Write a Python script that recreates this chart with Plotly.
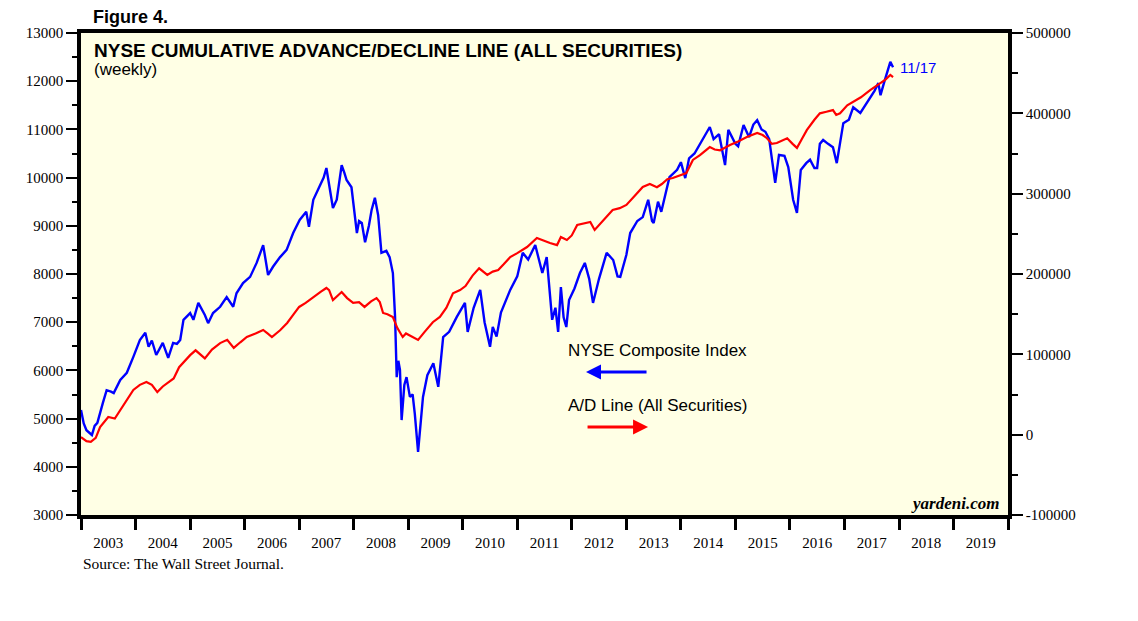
import datetime as dt
import plotly.graph_objects as go

# ---- data (decimal year, value) ----
nyse_t = [2003.00, 2003.05, 2003.10, 2003.20, 2003.25, 2003.30, 2003.40, 2003.47, 2003.55, 2003.60,
          2003.72, 2003.84, 2003.96, 2004.08, 2004.18, 2004.24, 2004.30, 2004.38, 2004.50, 2004.60,
          2004.69, 2004.76, 2004.82, 2004.88, 2005.00, 2005.06, 2005.15, 2005.27, 2005.33, 2005.42,
          2005.55, 2005.67, 2005.79, 2005.85, 2005.97, 2006.10, 2006.22, 2006.34, 2006.43, 2006.52,
          2006.65, 2006.77, 2006.89, 2007.01, 2007.13, 2007.18, 2007.26, 2007.38, 2007.45, 2007.50,
          2007.58, 2007.62, 2007.69, 2007.78, 2007.83, 2007.87, 2007.96, 2008.06, 2008.10, 2008.15,
          2008.21, 2008.28, 2008.33, 2008.39, 2008.45, 2008.51, 2008.60, 2008.66, 2008.72, 2008.76,
          2008.79, 2008.82, 2008.85, 2008.88, 2008.93, 2008.97, 2009.03, 2009.08, 2009.12, 2009.18,
          2009.27, 2009.35, 2009.46, 2009.55, 2009.64, 2009.75, 2009.89, 2010.04, 2010.09, 2010.20,
          2010.32, 2010.40, 2010.50, 2010.55, 2010.62, 2010.70, 2010.87, 2011.00, 2011.10, 2011.20,
          2011.33, 2011.40, 2011.46, 2011.54, 2011.60, 2011.64, 2011.70, 2011.75, 2011.80, 2011.85,
          2011.90, 2011.95, 2012.05, 2012.15, 2012.24, 2012.32, 2012.39, 2012.50, 2012.64, 2012.76,
          2012.84, 2012.89, 2013.00, 2013.07, 2013.20, 2013.30, 2013.40, 2013.47, 2013.50, 2013.58,
          2013.64, 2013.72, 2013.79, 2013.93, 2014.00, 2014.08, 2014.15, 2014.25, 2014.35, 2014.45,
          2014.53, 2014.60, 2014.70, 2014.81, 2014.87, 2015.00, 2015.05, 2015.15, 2015.25, 2015.33,
          2015.40, 2015.48, 2015.55, 2015.62, 2015.67, 2015.73, 2015.80, 2015.90, 2015.97, 2016.06,
          2016.13, 2016.20, 2016.30, 2016.37, 2016.45, 2016.50, 2016.55, 2016.61, 2016.70, 2016.79,
          2016.86, 2016.98, 2017.08, 2017.16, 2017.29, 2017.38, 2017.47, 2017.55, 2017.62, 2017.66,
          2017.72, 2017.78, 2017.84, 2017.89]
nyse_v = [5180, 4900, 4760, 4660, 4850, 4910, 5320, 5590, 5560, 5530,
          5800, 5950, 6280, 6630, 6780, 6490, 6620, 6320, 6570, 6260,
          6570, 6550, 6630, 7050, 7190, 7050, 7400, 7150, 6980, 7190,
          7320, 7520, 7320, 7600, 7810, 7940, 8230, 8600, 7980, 8150,
          8350, 8500, 8850, 9120, 9290, 8980, 9540, 9850, 10000, 10200,
          9600, 9370, 9540, 10260, 10100, 9950, 9800, 8850, 9100, 9060,
          8660, 9000, 9330, 9580, 9220, 8440, 8480, 8350, 8020, 7110,
          5860, 6200, 6010, 4970, 5700, 5860, 5450, 5500, 5100, 4310,
          5450, 5900, 6150, 5660, 6690, 6800, 7110, 7400, 6800, 7300,
          7670, 7000, 6490, 6900, 6700, 7200, 7670, 7950, 8440, 8300,
          8600, 8300, 8020, 8350, 7600, 7050, 7300, 6800, 7730, 7100,
          6900, 7460, 7700, 8020, 8230, 7900, 7400, 7900, 8440, 8290,
          7950, 7940, 8400, 8850, 9100, 9180, 9540, 9100, 9060, 9500,
          9290, 9700, 10010, 10160, 10320, 9990, 10400, 10500, 10700, 10900,
          11050, 10800, 10900, 10260, 10990, 10700, 10650, 11090, 10840, 11100,
          11190, 11000, 10950, 10800, 10370, 9890, 10470, 10450, 10220, 9540,
          9270, 10160, 10300, 10370, 10200, 10200, 10700, 10780, 10700, 10630,
          10300, 11130, 11200, 11460, 11340, 11500, 11670, 11800, 11960, 11710,
          11950, 12170, 12400, 12290]

ad_t = [2003.00, 2003.10, 2003.18, 2003.27, 2003.35, 2003.50, 2003.62, 2003.80, 2003.96, 2004.08,
        2004.20, 2004.30, 2004.40, 2004.50, 2004.60, 2004.70, 2004.80, 2004.90, 2005.00, 2005.10,
        2005.27, 2005.40, 2005.55, 2005.68, 2005.80, 2005.92, 2006.04, 2006.20, 2006.34, 2006.42,
        2006.50, 2006.65, 2006.78, 2006.90, 2007.00, 2007.12, 2007.25, 2007.40, 2007.50, 2007.55,
        2007.62, 2007.70, 2007.78, 2007.88, 2007.99, 2008.10, 2008.20, 2008.32, 2008.42, 2008.48,
        2008.54, 2008.62, 2008.72, 2008.80, 2008.90, 2008.96, 2009.05, 2009.18, 2009.30, 2009.45,
        2009.58, 2009.70, 2009.82, 2009.95, 2010.05, 2010.18, 2010.30, 2010.38, 2010.45, 2010.55,
        2010.65, 2010.75, 2010.87, 2011.00, 2011.18, 2011.36, 2011.50, 2011.60, 2011.73, 2011.80,
        2011.91, 2012.00, 2012.10, 2012.25, 2012.34, 2012.42, 2012.55, 2012.65, 2012.75, 2012.88,
        2013.00, 2013.15, 2013.30, 2013.43, 2013.56, 2013.65, 2013.75, 2013.85, 2013.95, 2014.10,
        2014.22, 2014.35, 2014.53, 2014.62, 2014.72, 2014.90, 2015.05, 2015.21, 2015.40, 2015.50,
        2015.58, 2015.67, 2015.76, 2015.95, 2016.05, 2016.13, 2016.22, 2016.31, 2016.45, 2016.55,
        2016.67, 2016.79, 2016.85, 2016.92, 2017.05, 2017.16, 2017.30, 2017.47, 2017.65, 2017.75,
        2017.84, 2017.89]
ad_v = [-3000, -8000, -9000, -4000, 9500, 22000, 20000, 39400, 55600, 62000,
        65600, 62000, 53000, 60000, 65000, 70000, 84000, 92000, 99000, 105000,
        95000, 106000, 114000, 118000, 108000, 115000, 121600, 126000, 130300, 126000,
        121600, 130000, 139000, 150000, 159000, 164000, 171000, 178000, 182600, 180000,
        167600, 172000, 177600, 170000, 164000, 165000, 159000, 166000, 170000, 165000,
        151500, 150000, 146500, 133000, 121600, 126000, 123000, 118000, 128000, 140000,
        146500, 158000, 176000, 180000, 185000, 198000, 207000, 202000, 198800, 203000,
        205000, 212000, 221000, 226000, 233600, 244800, 241000, 238600, 236000, 246000,
        242300, 248000, 261000, 263000, 264700, 254800, 265000, 273000, 279700, 282000,
        286000, 297000, 308300, 312000, 308000, 312000, 318000, 319500, 322000, 325700,
        342000, 348000, 358000, 355000, 354000, 360600, 365000, 370500, 375500, 373000,
        369000, 362000, 363000, 369000, 362000, 357000, 368000, 379000, 392000, 400000,
        402000, 404000, 398000, 400000, 410000, 414000, 420000, 429000, 437800, 442000,
        447700, 445000]

left_ticks = [3000, 4000, 5000, 6000, 7000, 8000, 9000, 10000, 11000, 12000, 13000]
right_ticks = [-100000, 0, 100000, 200000, 300000, 400000, 500000]
right_labels = ["-100000", "0", "100000", "200000", "300000", "400000", "500000"]


def to_date(y):
    yr = int(y)
    return dt.datetime(yr, 1, 1) + dt.timedelta(days=(y - yr) * 365.25)


nyse_x = [to_date(t) for t in nyse_t]
ad_x = [to_date(t) for t in ad_t]

SERIF = "Liberation Serif, Times New Roman, serif"
SANS = "Liberation Sans, Arial, sans-serif"

fig = go.Figure()
fig.add_trace(go.Scatter(x=nyse_x, y=nyse_v, mode="lines", line=dict(color="#0000FF", width=2.4),
                         yaxis="y", showlegend=False))
fig.add_trace(go.Scatter(x=ad_x, y=ad_v, mode="lines", line=dict(color="#FF0000", width=2.2),
                         yaxis="y2", showlegend=False))

fig.update_layout(
    width=1130, height=613,
    margin=dict(l=73, r=130, t=25, b=106, pad=0),
    paper_bgcolor="white",
    plot_bgcolor="#FFFFE5",
    xaxis=dict(
        type="date", range=[dt.datetime(2003, 1, 1), dt.datetime(2020, 1, 1)],
        tick0="2003-01-01", dtick="M12", tickformat="%Y", ticklabelmode="period",
        ticks="outside", ticklen=11, tickwidth=2.5, tickcolor="black",
        showline=True, linewidth=3.5, linecolor="black", mirror=True,
        showgrid=False, zeroline=False,
        tickfont=dict(family=SERIF, size=15, color="black"),
    ),
    yaxis=dict(
        range=[3000, 13000], tickvals=left_ticks, tickformat="d",
        ticks="outside", ticklen=11, tickwidth=1.5, tickcolor="black",
        minor=dict(dtick=500, tick0=3000, ticks="outside", ticklen=5, tickwidth=1.5, tickcolor="black", showgrid=False),
        showline=True, linewidth=3.5, linecolor="black",
        showgrid=False, zeroline=False,
        tickfont=dict(family=SERIF, size=15, color="black"),
    ),
    yaxis2=dict(
        range=[-100000, 500000], tickvals=right_ticks, ticktext=right_labels,
        overlaying="y", side="right",
        ticks="outside", ticklen=11, tickwidth=1.5, tickcolor="black",
        minor=dict(dtick=50000, tick0=0, ticks="outside", ticklen=6, tickwidth=1.5, tickcolor="black", showgrid=False),
        showline=True, linewidth=3.5, linecolor="black",
        showgrid=False, zeroline=False,
        tickfont=dict(family=SERIF, size=15, color="black"),
    ),
)

ann = [
    dict(text="<b>Figure 4.</b>", x=0.0108, y=1.0325, xanchor="left", yanchor="middle",
         font=dict(family=SANS, size=18, color="black")),
    dict(text="<b>NYSE CUMULATIVE ADVANCE/DECLINE LINE (ALL SECURITIES)</b>", x=0.012, y=0.990,
         xanchor="left", yanchor="top", font=dict(family=SANS, size=19, color="black")),
    dict(text="(weekly)", x=0.012, y=0.948, xanchor="left", yanchor="top",
         font=dict(family=SANS, size=17, color="black")),
    dict(text="NYSE Composite Index", x=0.523, y=0.342, xanchor="left", yanchor="middle",
         font=dict(family=SANS, size=17, color="black")),
    dict(text="A/D Line (All Securities)", x=0.523, y=0.228, xanchor="left", yanchor="middle",
         font=dict(family=SANS, size=17, color="black")),
    dict(text="11/17", x=0.881, y=0.929, xanchor="left", yanchor="middle",
         font=dict(family=SANS, size=15, color="#0000FF")),
    dict(text="<b><i>yardeni.com</i></b>", x=0.9925, y=0.0, xanchor="right", yanchor="bottom",
         font=dict(family=SERIF, size=17, color="black")),
    dict(text="Source: The Wall Street Journal.", x=0.0, y=-0.0996, xanchor="left", yanchor="middle",
         font=dict(family=SERIF, size=15.5, color="black")),
]
for a in ann:
    fig.add_annotation(xref="paper", yref="paper", showarrow=False, **a)

# legend arrows
fig.add_annotation(xref="paper", yref="paper", x=0.5448, y=0.2967, ax=62, ay=0, text="",
                   showarrow=True, arrowhead=2, arrowsize=1, arrowwidth=3, arrowcolor="#0000FF")
fig.add_annotation(xref="paper", yref="paper", x=0.6117, y=0.1826, ax=-62, ay=0, text="",
                   showarrow=True, arrowhead=2, arrowsize=1, arrowwidth=3, arrowcolor="#FF0000")

fig.write_html("out.html")
